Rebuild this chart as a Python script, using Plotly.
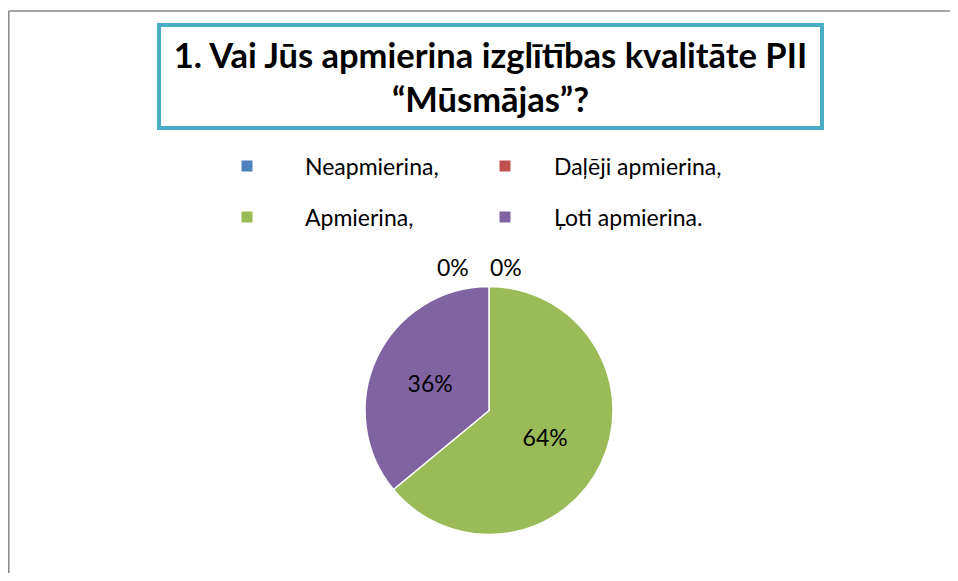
import plotly.graph_objects as go

labels = ["Neapmierina,", "Daļēji apmierina,", "Apmierina,", "Ļoti apmierina."]
values = [0, 0, 64, 36]
colors = ["#4F81BD", "#C0504D", "#9BBB59", "#8064A2"]
title_text = "1. Vai Jūs apmierina izglītības kvalitāte PII<br>“Mūsmājas”?"

# page body has an 8px margin; figure sized to fit inside the window
W, H = 950, 565
FONT = "Lato"


def px(x):
    return x / W


def py(y):
    return 1 - y / H


fig = go.Figure()
texttemplates = ["" if v == 0 else "%{percent:.0%}" for v in values]
fig.add_trace(go.Pie(
    labels=labels,
    values=values,
    marker=dict(colors=colors, line=dict(color="white", width=1.5)),
    sort=False,
    direction="clockwise",
    rotation=0,
    texttemplate=texttemplates,
    textposition="inside",
    textfont=dict(family=FONT, size=23, color="black"),
    insidetextorientation="horizontal",
    domain=dict(x=[px(357), px(605)], y=[py(527), py(278)]),
    hoverinfo="label+percent",
    showlegend=False,
))

# zero-value slice labels shown side by side above the pie
total = sum(values)
zero_idx = [i for i, v in enumerate(values) if v == 0]
zero_x = [445, 498]
for k, i in enumerate(zero_idx):
    fig.add_annotation(text=f"{round(100 * values[i] / total)}%", xref="paper", yref="paper",
                       x=px(zero_x[k]), y=py(259), xanchor="center", yanchor="middle",
                       showarrow=False, font=dict(family=FONT, size=23, color="black"))

# outer chart border: only the top and left edges are visible in the reference
fig.add_shape(type="line", xref="paper", yref="paper",
              x0=px(0.8), x1=1.0, y0=py(3), y1=py(3),
              line=dict(color="#868686", width=1.5), layer="below")
fig.add_shape(type="line", xref="paper", yref="paper",
              x0=px(0.8), x1=px(0.8), y0=0.0, y1=py(3),
              line=dict(color="#868686", width=1.5), layer="below")

# title box
fig.add_annotation(text="<b>" + title_text + "</b>", xref="paper", yref="paper",
                   x=px(482), y=py(68), xanchor="center", yanchor="middle",
                   showarrow=False, font=dict(family=FONT, size=34.5, color="black"),
                   bordercolor="#4BACC6", borderwidth=4, borderpad=6, bgcolor="white",
                   width=647, height=87)

# legend (2 columns x 2 rows)
col_marker = [239, 497]
col_text = [295, 544]
row_y = [158, 209]
for i, (lab, col) in enumerate(zip(labels, colors)):
    c, r = i % 2, i // 2
    mx, my = col_marker[c], row_y[r]
    fig.add_shape(type="rect", xref="paper", yref="paper",
                  x0=px(mx - 5.5), x1=px(mx + 5.5), y0=py(my + 5.5), y1=py(my - 5.5),
                  line=dict(width=0), fillcolor=col)
    fig.add_annotation(text=lab, xref="paper", yref="paper",
                       x=px(col_text[c]), y=py(my), xanchor="left", yanchor="middle",
                       showarrow=False, font=dict(family=FONT, size=23, color="black"))

fig.update_layout(
    width=W, height=H,
    margin=dict(l=0, r=0, t=0, b=0),
    paper_bgcolor="white",
    plot_bgcolor="white",
    showlegend=False,
)

fig.write_html("out.html", config={"displayModeBar": False})
